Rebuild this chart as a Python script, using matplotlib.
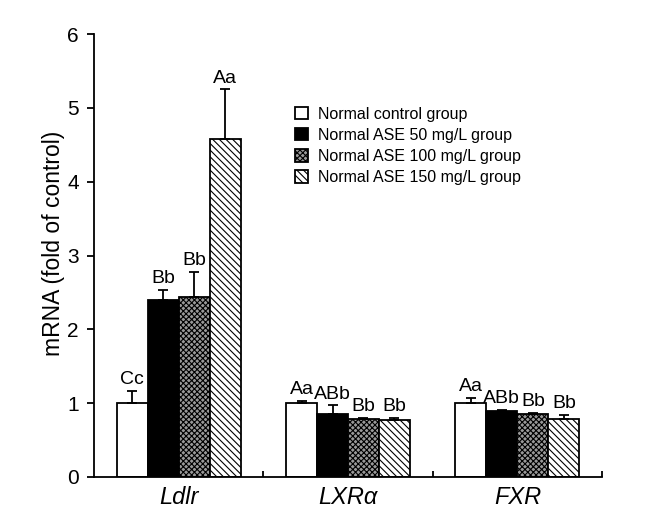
import matplotlib
matplotlib.use("Agg")
import matplotlib.pyplot as plt
import numpy as np

plt.rcParams['font.family'] = ['Liberation Sans', 'DejaVu Sans']
plt.rcParams['hatch.linewidth'] = 0.8

genes = ['Ldlr', 'LXRα', 'FXR']
series = ['Normal control group', 'Normal ASE 50 mg/L group',
          'Normal ASE 100 mg/L group', 'Normal ASE 150 mg/L group']
values = [
    [1.00, 1.00, 1.00],
    [2.40, 0.86, 0.89],
    [2.44, 0.79, 0.85],
    [4.58, 0.77, 0.79],
]
errors = [
    [0.17, 0.03, 0.07],
    [0.13, 0.11, 0.02],
    [0.34, 0.01, 0.02],
    [0.67, 0.03, 0.05],
]
letters = [
    ['Cc', 'Aa', 'Aa'],
    ['Bb', 'ABb', 'ABb'],
    ['Bb', 'Bb', 'Bb'],
    ['Aa', 'Bb', 'Bb'],
]
yticks = [0, 1, 2, 3, 4, 5, 6]

faces = ['white', 'black', '#9a9a9a', 'white']
hatches = [None, None, 'xxxxxx', '\\\\\\\\\\']

fig = plt.figure(figsize=(6.46, 5.22), dpi=100)
ax = fig.add_axes([94/646, 1-477/522, 508/646, 443/522])

x = np.arange(len(genes)) + 0.5
w = 0.183
for i in range(4):
    pos = x + (i - 1.5) * w
    ax.bar(pos, values[i], width=w, color=faces[i], edgecolor='black',
           linewidth=1.3, hatch=hatches[i], label=series[i], zorder=2)
    ax.errorbar(pos, values[i], yerr=[np.zeros(3), errors[i]], fmt='none',
                ecolor='black', elinewidth=1.3, capsize=3.5, capthick=1.3, zorder=3)
    for j in range(3):
        ax.annotate(letters[i][j], (pos[j], values[i][j] + errors[i][j]),
                    xytext=(0, 2), textcoords='offset points', ha='center',
                    va='bottom', fontsize=14)

ax.set_xlim(0, 3)
ax.set_ylim(0, 6)
ax.set_yticks(yticks)
ax.set_yticklabels([str(t) for t in yticks], fontsize=15)
ax.tick_params(axis='y', direction='out', length=5, width=1.3, pad=6)
ax.set_xticks([1, 2, 3])
ax.set_xticklabels([])
ax.tick_params(axis='x', direction='in', length=4, width=1.3)
for j, g in enumerate(genes):
    ax.text(x[j], -0.12, g, style='italic', fontsize=17, ha='center', va='top',
            transform=ax.transData)
ax.spines['top'].set_visible(False)
ax.spines['right'].set_visible(False)
ax.spines['left'].set_linewidth(1.3)
ax.spines['bottom'].set_linewidth(1.3)
ax.set_ylabel('mRNA (fold of control)', fontsize=16.5)
ax.yaxis.set_label_coords(-0.058, 0.528)

leg = ax.legend(loc='upper left', bbox_to_anchor=(0.384, 0.85), frameon=False,
                fontsize=11.5, handlelength=0.8, handleheight=0.8,
                handletextpad=0.6, labelspacing=0.38, borderaxespad=0)

fig.savefig('out.png', dpi=100)
